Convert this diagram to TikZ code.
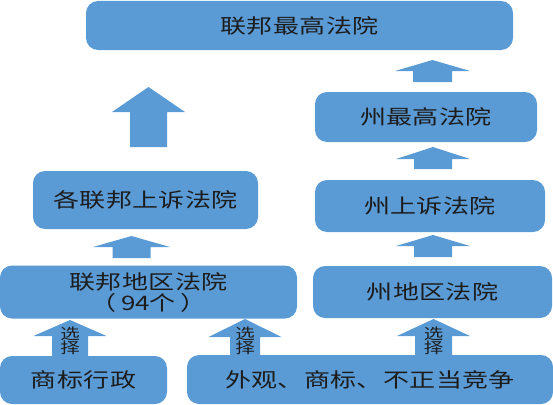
\documentclass[tikz,border=0pt]{standalone}
\usepackage{fontspec}
\newfontfamily\cjkfont[FakeStretch=1.3, LetterSpace=2]{Noto Sans CJK SC}
\newfontfamily\cjkplain[FakeStretch=1.3]{Noto Sans CJK SC}
\usetikzlibrary{positioning}

\definecolor{courtblue}{RGB}{91,155,213}
\definecolor{courttext}{RGB}{28,28,28}

\tikzset{
  court/.style={rectangle, rounded corners=12pt, fill=courtblue, text=courttext,
    font=\fontsize{20}{21}\cjkfont, align=center, inner sep=0pt},
  choice/.style={font=\fontsize{15}{14}\cjkplain, text=courttext, align=center, inner sep=0pt}
}

% block arrow: x, tip, head base, bottom, half shaft, half head
\newcommand{\courtarrow}[6]{%
  \fill[courtblue] (#1-#5,#4) -- (#1-#5,#3) -- (#1-#6,#3) -- (#1,#2)
    -- (#1+#6,#3) -- (#1+#5,#3) -- (#1+#5,#4) -- cycle;}

\begin{document}
\begin{tikzpicture}[x=1pt, y=-1pt]
    \useasboundingbox (0,0) rectangle (553,404);

    % --- federal column ---
    \node[court, minimum width=427pt, minimum height=49pt] (fsc) at (299.5,25.5) {联邦最高法院};
    \node[court, minimum width=225pt, minimum height=58pt] (fca) at (145.5,200) {各联邦上诉法院};
    \node[court, minimum width=297pt, minimum height=53pt] (fdc) at (148.5,292)
        {联邦地区法院\\{\cjkplain（\hspace{5pt}94个\hspace{5pt}）}};

    % --- state column ---
    \node[court, minimum width=222pt, minimum height=50pt] (ssc) at (426,117) {州最高法院};
    \node[court, minimum width=230pt, minimum height=52pt] (sca) at (430,206) {州上诉法院};
    \node[court, minimum width=239pt, minimum height=52pt] (sdc) at (432.5,292) {州地区法院};

    % --- case types ---
    \node[court, minimum width=167pt, minimum height=48pt] (tm) at (83.5,380) {商标行政};
    \node[court, minimum width=366pt, minimum height=49pt] (misc) at (370,379.5) {外观、商标、不正当竞争};

    % Arrows up
    \courtarrow{148.5}{87}{112}{147}{18.5}{36.5}
    \courtarrow{131.5}{236}{247}{258}{19}{38.5}
    \courtarrow{432.5}{60}{71}{82}{19.5}{37.5}
    \courtarrow{433}{147}{159}{169}{19}{37}
    \courtarrow{433}{235}{246}{257}{19}{37}

    % Choice arrows
    \courtarrow{70}{320}{336}{356}{18}{36.5}
    \courtarrow{245}{319}{337}{355}{15}{36.5}
    \courtarrow{433.5}{319}{336}{355}{18.5}{36.5}
    \node[choice] (pick1) at (70,341) {选\\择};
    \node[choice] (pick2) at (245,341) {选\\择};
    \node[choice] (pick3) at (433.5,341) {选\\择};

\end{tikzpicture}
\end{document}
